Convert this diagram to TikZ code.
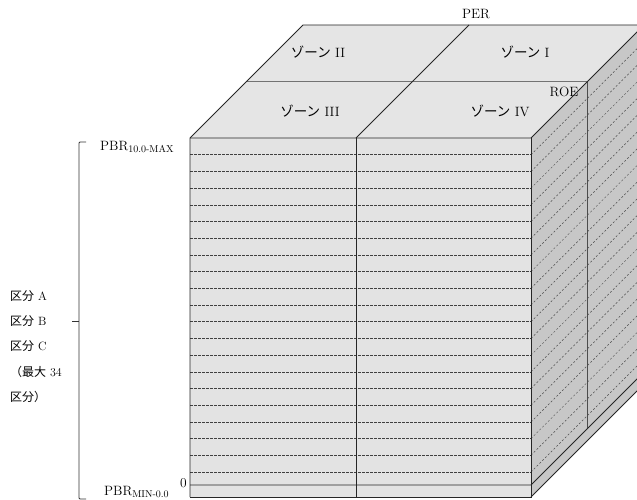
\documentclass[tikz,border=0pt]{standalone}
\usepackage{fontspec}
\newfontfamily\cjk{Noto Sans CJK JP}
\begin{document}
\begin{tikzpicture}[x=1pt,y=-1pt,
  lbl/.style={inner sep=0pt,font=\fontsize{13.5}{15}\selectfont},
  jlbl/.style={inner sep=0pt,anchor=west,font=\fontsize{12}{14}\selectfont},
  edge/.style={draw=black!85,line width=0.8pt},
  fdash/.style={draw=black!75,line width=0.6pt,dash pattern=on 2.6pt off 1.4pt},
  rdash/.style={draw=black!70,line width=0.5pt,dash pattern=on 2pt off 2pt}]
\useasboundingbox (0,0) rectangle (637,500);
\clip (0,0) rectangle (637,500);
% faces
\fill[black!10] (190,138) -- (303,25) -- (644,25) -- (531,138) -- cycle;
\fill[black!11] (190,138) rectangle (531,497);
\fill[black!22] (531,138) -- (644,25) -- (644,384) -- (531,497) -- cycle;
% front dashed lines
\foreach \k in {1,...,20}{
  \pgfmathsetmacro{\yy}{138+16.7*\k}
  \draw[fdash] (190,\yy) -- (531,\yy);
  \draw[rdash] (531,\yy) -- (644,\yy-113);
}
% bottom strip
\draw[edge] (190,485) -- (531,485) -- (644,372);
\draw[edge] (531,497) -- (644,384);
% top face lines
\draw[draw=black!55,line width=0.7pt] (246.5,81.5) -- (587.5,81.5);
\draw[edge] (356,138) -- (469,25);
\draw[draw=black!70,line width=0.7pt] (587.5,81.5) -- (587.5,428);
% front middle
\draw[edge] (356,138) -- (356,497);
% outlines
\draw[edge] (190,497) -- (190,138) -- (303,25) -- (644,25);
\draw[edge] (190,138) -- (531,138) -- (644,25);
\draw[edge] (190,497) -- (531,497) -- (531,138);
% labels
\node[lbl] (per) at (476,14) {PER};
\node[lbl] (roe) at (564,92) {ROE};
\node[lbl] (z2) at (318,52) {{\cjk ゾーン}\ II};
\node[lbl] (z1) at (525,52) {{\cjk ゾーン}\ I};
\node[lbl] (z3) at (310,111) {{\cjk ゾーン}\ III};
\node[lbl] (z4) at (500,111) {{\cjk ゾーン}\ IV};
\node[lbl,anchor=west] (pmax) at (100,147) {PBR\raisebox{-2.5pt}{\fontsize{10}{11}\selectfont 10.0-MAX}};
\node[lbl,anchor=west] (pmin) at (104,492) {PBR\raisebox{-2.5pt}{\fontsize{10}{11}\selectfont MIN-0.0}};
\node[lbl,anchor=east] (zero) at (187,483) {0};
% bracket
\draw[draw=black!80,line width=0.8pt,rounded corners=1pt] (86,142) -- (79,142) -- (79,499) -- (86,499);
\draw[draw=black!80,line width=0.8pt] (72,321) -- (79,321);
\node[jlbl] (ka) at (10,296) {{\cjk 区分}\ A};
\node[jlbl] (kb) at (10,321) {{\cjk 区分}\ B};
\node[jlbl] (kc) at (10,346) {{\cjk 区分}\ C};
\node[jlbl] (kmax) at (10,372) {{\cjk （最大}\ 34};
\node[jlbl] (kend) at (10,397) {{\cjk 区分）}};
\end{tikzpicture}
\end{document}
